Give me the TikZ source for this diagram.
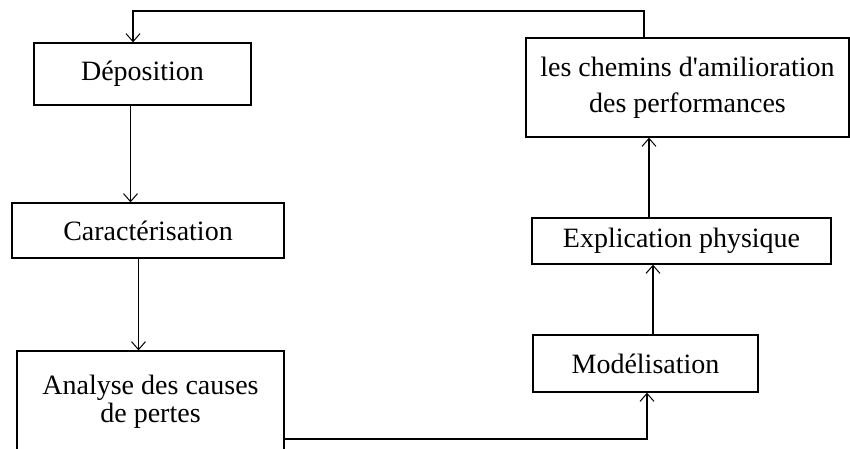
\documentclass[tikz,border=0pt]{standalone}
\usepackage{fontspec}
\setmainfont{Liberation Serif}[Ligatures=TeXOff]
\usetikzlibrary{arrows.meta,calc}
\begin{document}
\begin{tikzpicture}[x=1pt,y=-1pt,
  box/.style={draw,line width=1.3pt,inner sep=0pt,align=center,font=\fontsize{28}{36}\selectfont},
  arr/.style={line width=1.3pt,-{Straight Barb[length=8pt,width=14pt,line width=1pt]}},
  ln/.style={line width=1.3pt}]
\useasboundingbox (0,0) rectangle (850,448);
\clip (0,0) rectangle (850,448);
\node[box,minimum width=217pt,minimum height=62pt] (dep) at (142.5,74) {Déposition};
\node[box,minimum width=272pt,minimum height=55pt] (car) at (148,230.5) {Caractérisation};
\node[box,minimum width=267pt,minimum height=102pt,font=\fontsize{28}{28}\selectfont] (ana) at (150.5,402) {Analyse des causes\\de pertes};
\node[box,minimum width=323pt,minimum height=99pt] (chem) at (687.5,87.5) {les chemins d'amilioration\\des performances};
\node[box,minimum width=299pt,minimum height=46pt] (expl) at (681.5,241) {Explication physique};
\node[box,minimum width=225pt,minimum height=57pt] (mod) at (645.5,363.5) {Modélisation};
\coordinate (c1) at (644,11);
\coordinate (c2) at (133,11);
\coordinate (a1) at (130.5,0);
\coordinate (a2) at (138.5,0);
\coordinate (b1) at (647,439);
\coordinate (a3) at (653,0);
\coordinate (a4) at (649,0);
\draw[arr] (c1 |- chem.north) -- (c1) -- (c2) -- (c2 |- dep.north);
\draw[arr] (a1 |- dep.south) -- (a1 |- car.north);
\draw[arr] (a2 |- car.south) -- (a2 |- ana.north);
\draw[arr] (b1 -| ana.east) -- (b1) -- (b1 |- mod.south);
\draw[arr] (a3 |- mod.north) -- (a3 |- expl.south);
\draw[arr] (a4 |- expl.north) -- (a4 |- chem.south);
\end{tikzpicture}
\end{document}
